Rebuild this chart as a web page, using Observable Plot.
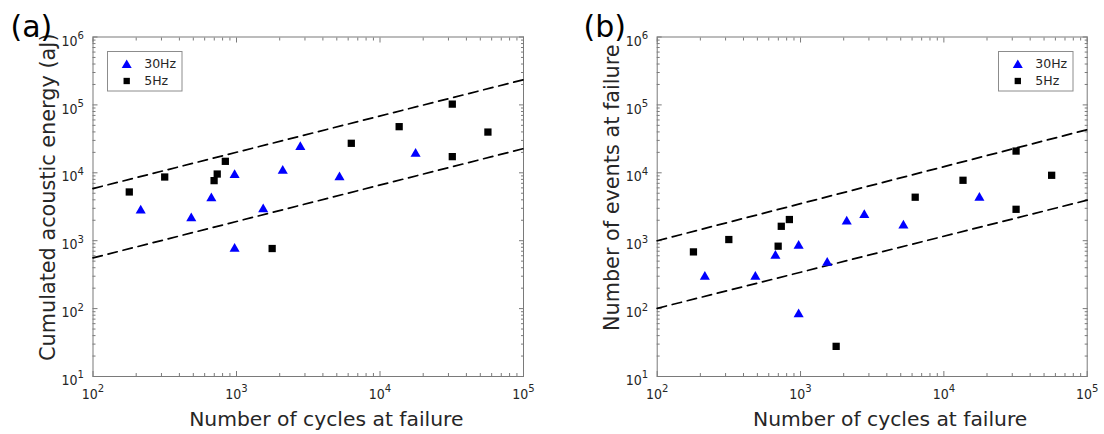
<!DOCTYPE html>
<html><head><meta charset="utf-8">
<script src="https://cdn.jsdelivr.net/npm/d3@7"></script>
<script src="https://cdn.jsdelivr.net/npm/@observablehq/plot@0.6"></script>
<style>
html,body{margin:0;padding:0;background:#fff;}
#wrap{display:flex;width:1104px;height:434px;overflow:hidden;}
#wrap svg{display:block;flex:none;}
</style></head><body><div id="wrap"></div>
<script>
// ---------- data ----------
const cycles30 = [215, 484, 668, 970, 970, 1535, 2100, 2785, 5220, 17700];
const energy30 = [2900, 2240, 4400, 9730, 794, 3030, 11250, 25100, 8980, 20000];
const events30 = [308, 308, 627, 879, 86, 494, 2000, 2510, 1750, 4470];

const cycles5 = [179, 316, 698, 734, 836, 1772, 6310, 13600, 31900, 31900, 56500];
const energy5 = [5220, 8670, 7670, 9590, 14760, 767, 27200, 47800, 102700, 17300, 39800];
const events5 = [684, 1040, 830, 1630, 2050, 27.8, 4370, 7760, 20900, 2900, 9190];

const fitCycles = [1e2, 1e5];
const energyUpper = [5860, 235000];
const energyLower = [558, 22700];
const eventsUpper = [1000, 43200];
const eventsLower = [101, 3950];

const xTickValues = [1e2, 1e3, 1e4, 1e5];
const yTickValues = [1e1, 1e2, 1e3, 1e4, 1e5, 1e6];
const minorMultipliers = [2, 3, 4, 5, 6, 7, 8, 9];

const seriesLabels = ["30Hz", "5Hz"];
const seriesColors = ["#0000ff", "#000000"];
const seriesSymbols = ["triangle", "square"];

const panelLetters = ["(a)", "(b)"];
const xTitle = "Number of cycles at failure";
const yTitles = ["Cumulated acoustic energy (aJ)", "Number of events at failure"];

// ---------- helpers ----------
const fmtPow = d => "10^" + Math.round(Math.log10(d));
const minorOf = majors => majors.slice(0, -1).flatMap(d => minorMultipliers.map(k => k * d));
const xMinor = minorOf(xTickValues);
const yMinor = minorOf(yTickValues);

const FRAME = "#7a7a7a";
const TXT = "#262626";
const TICKFONT = "'DejaVu Sans Condensed', 'DejaVu Sans', sans-serif";
const TITLEFONT = "'DejaVu Sans', sans-serif";
const TICKSIZE = 14;

function panel(i, cfg) {
  const W = 552, H = 434;
  const pts30 = cycles30.map((c, j) => ({x: c, y: cfg.y30[j]}));
  const pts5 = cycles5.map((c, j) => ({x: c, y: cfg.y5[j]}));
  const up = fitCycles.map((c, j) => ({x: c, y: cfg.upper[j]}));
  const lo = fitCycles.map((c, j) => ({x: c, y: cfg.lower[j]}));

  const tickMarks = [];
  for (const anchor of ["bottom", "top"]) {
    tickMarks.push(Plot.axisX(xTickValues, {anchor, tickSize: -5, fill: "none", stroke: FRAME, label: null}));
    tickMarks.push(Plot.axisX(xMinor, {anchor, tickSize: -3, fill: "none", stroke: FRAME, label: null}));
  }
  for (const anchor of ["left", "right"]) {
    tickMarks.push(Plot.axisY(yTickValues, {anchor, tickSize: -5, fill: "none", stroke: FRAME, label: null}));
    tickMarks.push(Plot.axisY(yMinor, {anchor, tickSize: -3, fill: "none", stroke: FRAME, label: null}));
  }

  const svg = Plot.plot({
    width: W, height: H,
    marginLeft: cfg.ml, marginRight: cfg.mr, marginTop: 36.5, marginBottom: 58,
    x: {type: "log", domain: [1e2, 1e5]},
    y: {type: "log", domain: [1e1, 1e6]},
    style: {fontFamily: TICKFONT, fontSize: TICKSIZE + "px", background: "white", overflow: "visible"},
    marks: [
      ...tickMarks,
      Plot.axisX(xTickValues, {anchor: "bottom", tickSize: 0, tickPadding: 12.5, stroke: "none",
        fill: TXT, fontSize: TICKSIZE, tickFormat: fmtPow, label: null}),
      Plot.axisY(yTickValues, {anchor: "left", tickSize: 0, tickPadding: 9, stroke: "none",
        fill: TXT, fontSize: TICKSIZE, dy: 4.2, tickFormat: fmtPow, label: null}),
      Plot.frame({stroke: FRAME, strokeWidth: 1}),
      Plot.line(up, {x: "x", y: "y", stroke: "black", strokeWidth: 1.7, strokeDasharray: "9.5,6"}),
      Plot.line(lo, {x: "x", y: "y", stroke: "black", strokeWidth: 1.7, strokeDasharray: "9.5,6"}),
      Plot.dot(pts30, {x: "x", y: "y", symbol: seriesSymbols[0], r: 3.75, fill: seriesColors[0], stroke: "none", dy: 1.4}),
      Plot.dot(pts5, {x: "x", y: "y", symbol: seriesSymbols[1], r: 4.1, fill: seriesColors[1], stroke: "none"}),
      Plot.text([xTitle], {text: d => d, frameAnchor: "bottom", textAnchor: "middle", lineAnchor: "bottom",
        dx: 18, dy: 49.7, fontSize: 20.3, fill: TXT, fontFamily: TITLEFONT}),
      Plot.text([yTitles[i]], {text: d => d, frameAnchor: "left", textAnchor: "middle", lineAnchor: "bottom",
        rotate: -90, dx: -38, dy: cfg.ytdy, fontSize: 20.8, fill: TXT, fontFamily: TITLEFONT}),
      Plot.text([panelLetters[i]], {text: d => d, frameAnchor: "top-left", textAnchor: "start", lineAnchor: "bottom",
        dx: cfg.letterDx, dy: -0.5, fontSize: 30, fill: "black", fontFamily: TITLEFONT})
    ]
  });

  // tick labels: "10" with a raised exponent
  d3.select(svg).selectAll("text").each(function() {
    const m = /^10\^(-?\d+)$/.exec(this.textContent.trim());
    if (!m) return;
    const t = d3.select(this);
    t.text("10")
      .style("font-size", TICKSIZE + "px")
      .style("font-family", TICKFONT);
    t.append("tspan").attr("dy", -6.7).style("font-size", "11.2px").text(m[1]);
  });

  // legend inside the frame
  const fl = cfg.ml, fr = W - cfg.mr, ft = 36.5;
  const bw = 74.5, bh = 39.5;
  const bx = cfg.legendRight ? fr - 14.4 - bw : fl + 14.2;
  const by = ft + 14.7;
  const g = d3.select(svg).append("g").attr("class", "legend").attr("text-anchor", "start");
  g.append("rect").attr("x", Math.round(bx) + 0.5).attr("y", Math.round(by) + 0.5)
    .attr("width", bw).attr("height", bh).attr("fill", "white").attr("stroke", "#8c8c8c").attr("stroke-width", 1);
  const rows = seriesLabels.map((label, k) => ({label, color: seriesColors[k], symbol: seriesSymbols[k], k}));
  const symY = [by + 12.6, by + 29.8];
  const txtY = [by + 16.9, by + 33.9];
  const symX = bx + 20;
  rows.forEach(r => {
    const sym = r.symbol === "triangle"
      ? d3.symbol(d3.symbolTriangle, 43.3)()
      : d3.symbol(d3.symbolSquare, 40)();
    g.append("path").attr("d", sym)
      .attr("transform", `translate(${symX},${symY[r.k] + (r.symbol === "triangle" ? 1.4 : 0)})`)
      .attr("fill", r.color);
    g.append("text").attr("x", bx + 37.5).attr("y", txtY[r.k]).attr("fill", TXT)
      .attr("text-anchor", "start")
      .style("font-family", TITLEFONT).style("font-size", "12.5px").text(r.label);
  });
  return svg;
}

const wrap = document.getElementById("wrap");
wrap.appendChild(panel(0, {y30: energy30, y5: energy5, upper: energyUpper, lower: energyLower,
  ml: 92.5, mr: 29, ytdy: -9.5, letterDx: -82.5, legendRight: false}));
wrap.appendChild(panel(1, {y30: events30, y5: events5, upper: eventsUpper, lower: eventsLower,
  ml: 104.7, mr: 17.3, ytdy: -19, letterDx: -73.7, legendRight: true}));
</script></body></html>
